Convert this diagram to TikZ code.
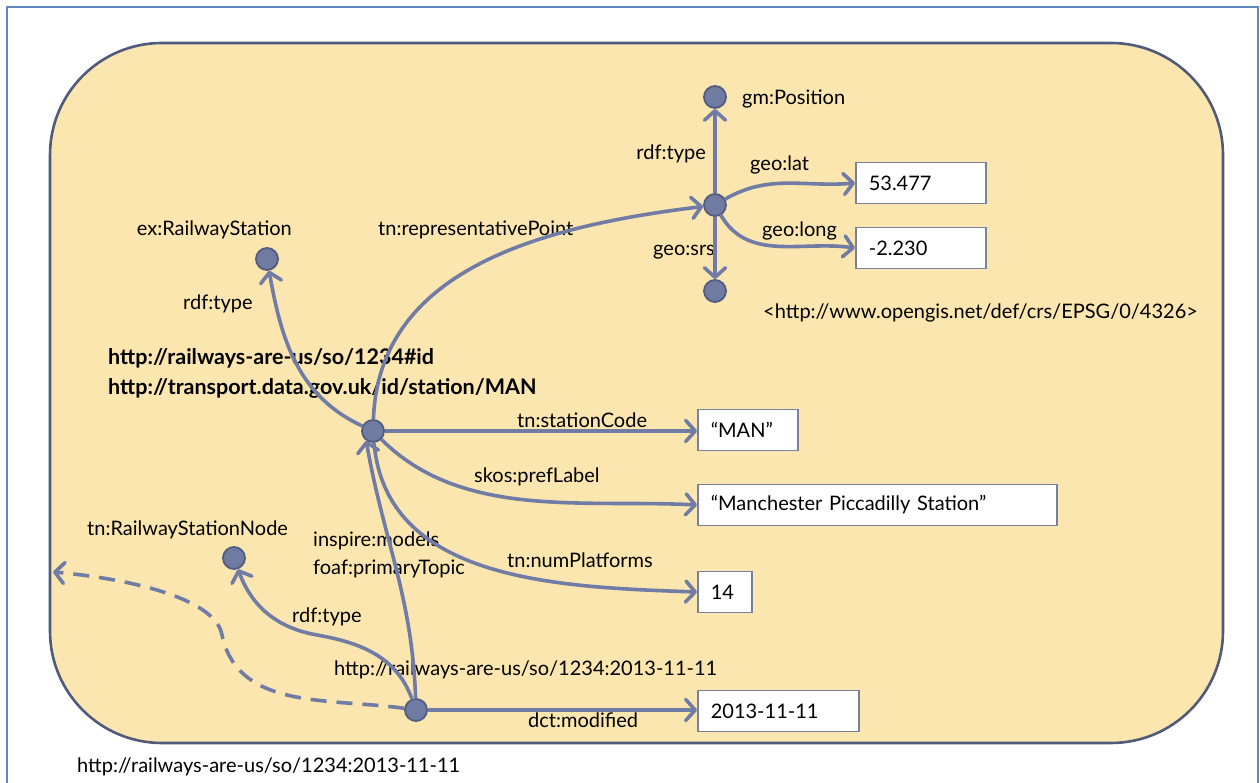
\documentclass[tikz,border=0pt]{standalone}
\usepackage{fontspec}
\setmainfont{Lato}
\usetikzlibrary{arrows.meta}
\definecolor{bgfill}{RGB}{251,230,175}
\definecolor{rectc}{RGB}{80,90,122}
\definecolor{framec}{RGB}{96,136,192}
\definecolor{edgec}{RGB}{112,124,166}
\definecolor{dotfill}{RGB}{112,123,162}
\definecolor{dotdraw}{RGB}{82,92,128}
\definecolor{boxc}{RGB}{120,128,160}
\begin{document}
\begin{tikzpicture}[x=1pt,y=1pt,
  every node/.style={font=\fontsize{20}{23}\selectfont, text=black},
  lbl/.style={inner sep=0pt, anchor=west, text height=18pt, text depth=3pt},
  lble/.style={lbl, anchor=east},
  bold/.style={lbl, font=\fontsize{21.5}{24}\selectfont\bfseries},
  dot/.style={circle, fill=dotfill, draw=dotdraw, line width=1.8pt, minimum size=22pt, inner sep=0pt},
  lit/.style={draw=boxc, line width=1.6pt, fill=white, anchor=west, inner xsep=13pt, inner ysep=0pt,
     minimum height=41pt, align=left},
  edge/.style={draw=edgec, line width=3.6pt, -{Straight Barb[length=9.5pt,width=21pt,round]}},
  dashedge/.style={edge, dash pattern=on 16pt off 10pt}
]
\useasboundingbox (0,0) rectangle (1260,783);
% frame and panel
\draw[framec, line width=2pt] (7,0) -- (7,776) -- (1258,776) -- (1258,0);
\draw[rounded corners=112pt, fill=bgfill, draw=rectc, line width=2.6pt] (50,40) rectangle (1223,740);

% labels
\node[lbl] (lgm) at (742,686) {gm:Position};
\node[lble] (ltype1) at (706,631) {rdf:type};
\node[lbl] (llat) at (750,620) {geo:lat};
\node[lbl] (llong) at (762,554) {geo:long};
\node[lbl] (lsrs) at (653,535) {geo:srs};
\node[lbl] (lepsg) at (763,472) {<http://www.opengis.net/def/crs/EPSG/0/4326>};
\node[lble] (lex) at (292,555) {ex:RailwayStation};
\node[lbl] (ltype2) at (183,481) {rdf:type};
\node[lbl] (lrep) at (378,555) {tn:representativePoint};
\node[bold] (lid1) at (108,426) {http://railways-are-us/so/1234\#id};
\node[bold] (lid2) at (108,396) {http://transport.data.gov.uk/id/station/MAN};
\node[lbl] (lcode) at (517,363) {tn:stationCode};
\node[lbl] (lpref) at (474,308) {skos:prefLabel};
\node[lbl] (lnum) at (507,223) {tn:numPlatforms};
\node[lbl] (linsp) at (313,244) {inspire:models};
\node[lbl] (lfoaf) at (313,216) {foaf:primaryTopic};
\node[lbl] (lrsn) at (87,255) {tn:RailwayStationNode};
\node[lbl] (ltype3) at (292,168) {rdf:type};
\node[lbl] (lver) at (334,115) {http://railways-are-us/so/1234:2013-11-11};
\node[lbl] (lmod) at (528,63) {dct:modified};
\node[lbl] (lbottom) at (77,18) {http://railways-are-us/so/1234:2013-11-11};

% resource nodes
\node[dot] (gm) at (715,686) {};
\node[dot] (pos) at (715,578) {};
\node[dot] (srs) at (715,492) {};
\node[dot] (ex) at (267,524) {};
\node[dot] (st) at (373,352) {};
\node[dot] (rsn) at (234,225) {};
\node[dot] (bot) at (416,73) {};

% literal boxes
\node[lit, text width=104pt] (lat) at (855,600) {53.477};
\node[lit, text width=104pt] (long) at (855,535) {-2.230};
\node[lit, text width=74pt] (man) at (697,353) {“MAN”};
\node[lit, text width=333pt] (pref) at (697,278) {“Manchester Piccadilly Station”};
\node[lit, text width=28pt] (n14) at (697,191) {14};
\node[lit, text width=135pt] (dat) at (697,72) {2013-11-11};

% helper coordinates
\coordinate (m1) at (317,148);
\coordinate (d1) at (222,148);
\coordinate (dend) at (53,211);

% edges
\draw[edge] (pos) -- (gm);
\draw[edge] (pos) -- (srs);
\draw[edge] (pos) to[out=30,in=185] (lat.west);
\draw[edge] (pos) to[out=-60,in=172] (long.west);
\draw[edge] (st) to[out=88,in=187] (pos);
\draw[edge] (st) to[out=155,in=-80] (ex);
\draw[edge] (st) -- (st -| man.west);
\draw[edge] (st) to[out=-45,in=177,looseness=0.9] (pref.west);
\draw[edge] (st) to[out=-85,in=178] (n14.west);
\draw[edge] (bot) to[out=92,in=-80] (st.235);
\draw[edge] (bot) to[out=110,in=-10] (m1) to[out=170,in=-70] (rsn);
\draw[edge] (bot) -- (bot -| dat.west);
\draw[dashedge] (bot) to[out=172,in=-78] (d1) to[out=100,in=-5,out looseness=0.55] (dend);
\end{tikzpicture}
\end{document}
